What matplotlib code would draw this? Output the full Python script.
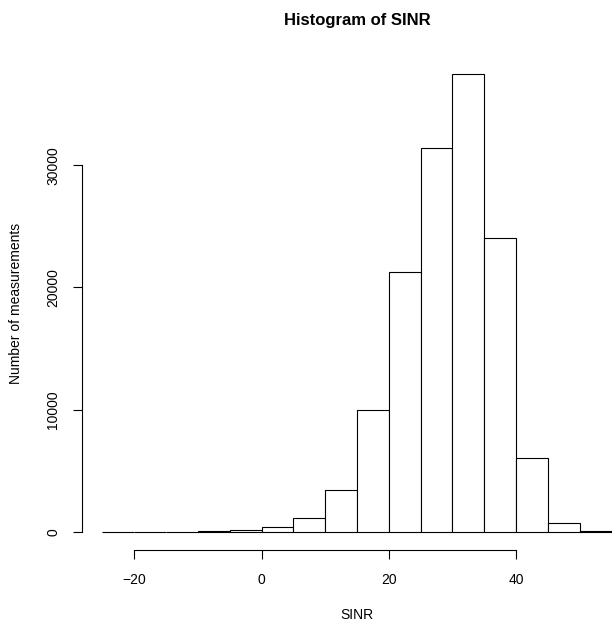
import matplotlib as mpl
import matplotlib.pyplot as plt

# SINR histogram, 5 dB bins from -25 to 55
bin_edges = [-25, -20, -15, -10, -5, 0, 5, 10, 15, 20, 25, 30, 35, 40, 45, 50, 55]
counts = [3, 5, 15, 60, 160, 370, 1150, 3440, 9930, 21230, 31400, 37460, 24020, 6070, 740, 40]
x_ticks = [-20, 0, 20, 40]
y_ticks = [0, 10000, 20000, 30000]

mpl.rcParams["font.family"] = ["Liberation Sans", "DejaVu Sans"]
mpl.rcParams["font.size"] = 10

W, H = 612, 626
fig = plt.figure(figsize=(W / 100, H / 100), dpi=100)
# plot region runs past the right edge of the picture, like the cropped original
left, right, top, bottom = 82, 632, 56, 550
ax = fig.add_axes([left / W, 1 - bottom / H, (right - left) / W, (bottom - top) / H])

lw = 0.8
ax.bar(bin_edges[:-1], counts, width=5, align="edge",
       facecolor="white", edgecolor="black", linewidth=lw)

x_lo, x_hi = bin_edges[0], bin_edges[-1]
pad_x = 0.04 * (x_hi - x_lo)
ax.set_xlim(x_lo - pad_x, x_hi + pad_x)
ymax = max(counts)
ax.set_ylim(-0.04 * ymax, 1.04 * ymax)

for s in ["top", "right"]:
    ax.spines[s].set_visible(False)
ax.spines["left"].set_bounds(y_ticks[0], y_ticks[-1])
ax.spines["bottom"].set_bounds(x_ticks[0], x_ticks[-1])
for s in ["left", "bottom"]:
    ax.spines[s].set_linewidth(lw)

ax.set_xticks(x_ticks)
ax.set_yticks(y_ticks)
ax.set_yticklabels([str(v) for v in y_ticks], rotation=90, va="center")
ax.tick_params(axis="both", length=6.5, width=lw, labelsize=10)
ax.tick_params(axis="x", pad=10)
ax.tick_params(axis="y", pad=9)

ax.set_title("Histogram of SINR", fontsize=12, fontweight="bold", pad=22)
ax.set_xlabel("SINR")
ax.xaxis.set_label_coords(0.5, -(608 - bottom) / (bottom - top))
ax.set_ylabel("Number of measurements")
ax.yaxis.set_label_coords(-(left - 23) / (right - left), 0.5)

plt.savefig("out.png", dpi=100)
